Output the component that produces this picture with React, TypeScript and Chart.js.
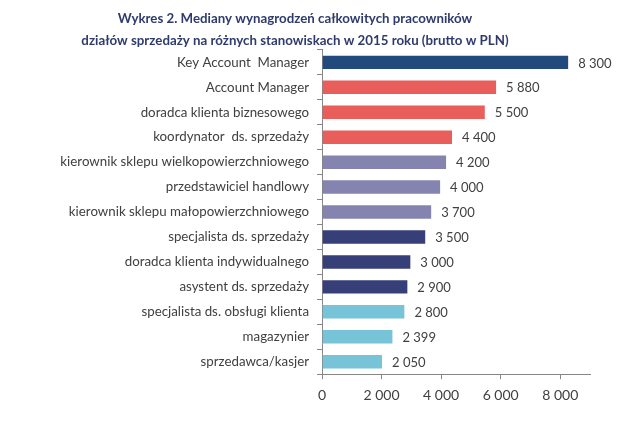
import React, { useEffect, useRef } from "react";
import { Chart, registerables } from "chart.js";

Chart.register(...registerables);

const categories = [
  "Key Account  Manager",
  "Account Manager",
  "doradca klienta biznesowego",
  "koordynator  ds. sprzedaży",
  "kierownik sklepu wielkopowierzchniowego",
  "przedstawiciel handlowy",
  "kierownik sklepu małopowierzchniowego",
  "specjalista ds. sprzedaży",
  "doradca klienta indywidualnego",
  "asystent ds. sprzedaży",
  "specjalista ds. obsługi klienta",
  "magazynier",
  "sprzedawca/kasjer",
];

const values = [8300, 5880, 5500, 4400, 4200, 4000, 3700, 3500, 3000, 2900, 2800, 2399, 2050];

const barColors = [
  "#234A7C",
  "#E95D5B",
  "#E95D5B",
  "#E95D5B",
  "#8584B0",
  "#8584B0",
  "#8584B0",
  "#363F78",
  "#363F78",
  "#363F78",
  "#77C3D8",
  "#77C3D8",
  "#77C3D8",
];

const titleLines = [
  "Wykres 2. Mediany wynagrodzeń całkowitych pracowników",
  "działów sprzedaży na różnych stanowiskach w 2015 roku (brutto w PLN)",
];

const xTicks = [0, 2000, 4000, 6000, 8000];

const fmt = (v: number) => {
  const s = String(Math.round(v));
  return s.replace(/\B(?=(\d{3})+(?!\d))/g, " ");
};

const FONT = "Lato, 'Open Sans', sans-serif";

const valueLabels = {
  id: "valueLabels",
  afterDatasetsDraw(chart: any) {
    const ctx = chart.ctx;
    const meta = chart.getDatasetMeta(0);
    ctx.save();
    ctx.font = `13px ${FONT}`;
    ctx.fillStyle = "#404040";
    ctx.textAlign = "left";
    ctx.textBaseline = "middle";
    meta.data.forEach((bar: any, i: number) => {
      ctx.fillText(fmt(values[i]), bar.x + 9, bar.y + 1);
    });
    ctx.restore();
  },
};

export default function App() {
  const ref = useRef<HTMLCanvasElement>(null);
  useEffect(() => {
    if (!ref.current) return;
    const chart = new Chart(ref.current, {
      type: "bar",
      data: {
        labels: categories,
        datasets: [
          {
            data: values,
            backgroundColor: barColors,
            borderColor: "rgba(255,255,255,0.6)",
            borderWidth: 1,
            barPercentage: 0.62,
            categoryPercentage: 1,
          },
        ],
      },
      options: {
        indexAxis: "y",
        animation: false,
        responsive: false,
        maintainAspectRatio: false,
        layout: { padding: { left: 0, right: 50, top: 4, bottom: 16 } },
        plugins: {
          legend: { display: false },
          tooltip: { enabled: false },
          title: {
            display: true,
            text: titleLines,
            color: "#2F3B6D",
            font: { family: FONT, size: 13.3, weight: "bold", lineHeight: 1.65 },
            padding: { top: 4, bottom: -2 },
          },
        },
        scales: {
          x: {
            min: 0,
            max: 9000,
            afterBuildTicks(scale: any) {
              scale.ticks = xTicks.map((v) => ({ value: v }));
            },
            ticks: {
              color: "#404040",
              font: { family: FONT, size: 14 },
              padding: 8,
              callback: (v: any) => fmt(Number(v)),
            },
            grid: {
              drawOnChartArea: false,
              drawTicks: true,
              tickLength: 5,
              color: "#868686",
            },
            border: { color: "#868686", width: 1 },
          },
          y: {
            afterFit(scale: any) {
              scale.width = 322;
            },
            ticks: {
              color: "#404040",
              font: { family: FONT, size: 13.3 },
              padding: 8,
              autoSkip: false,
            },
            grid: {
              drawOnChartArea: false,
              drawTicks: true,
              tickLength: 5,
              offset: true,
              color: "#868686",
            },
            border: { color: "#868686", width: 1 },
          },
        },
      },
      plugins: [valueLabels],
    });
    return () => chart.destroy();
  }, []);
  return (
    <div style={{ position: "fixed", left: 0, top: 0, width: 640, height: 428, background: "#fff" }}>
      <canvas ref={ref} width={640} height={428} style={{ width: 640, height: 428 }} />
    </div>
  );
}
